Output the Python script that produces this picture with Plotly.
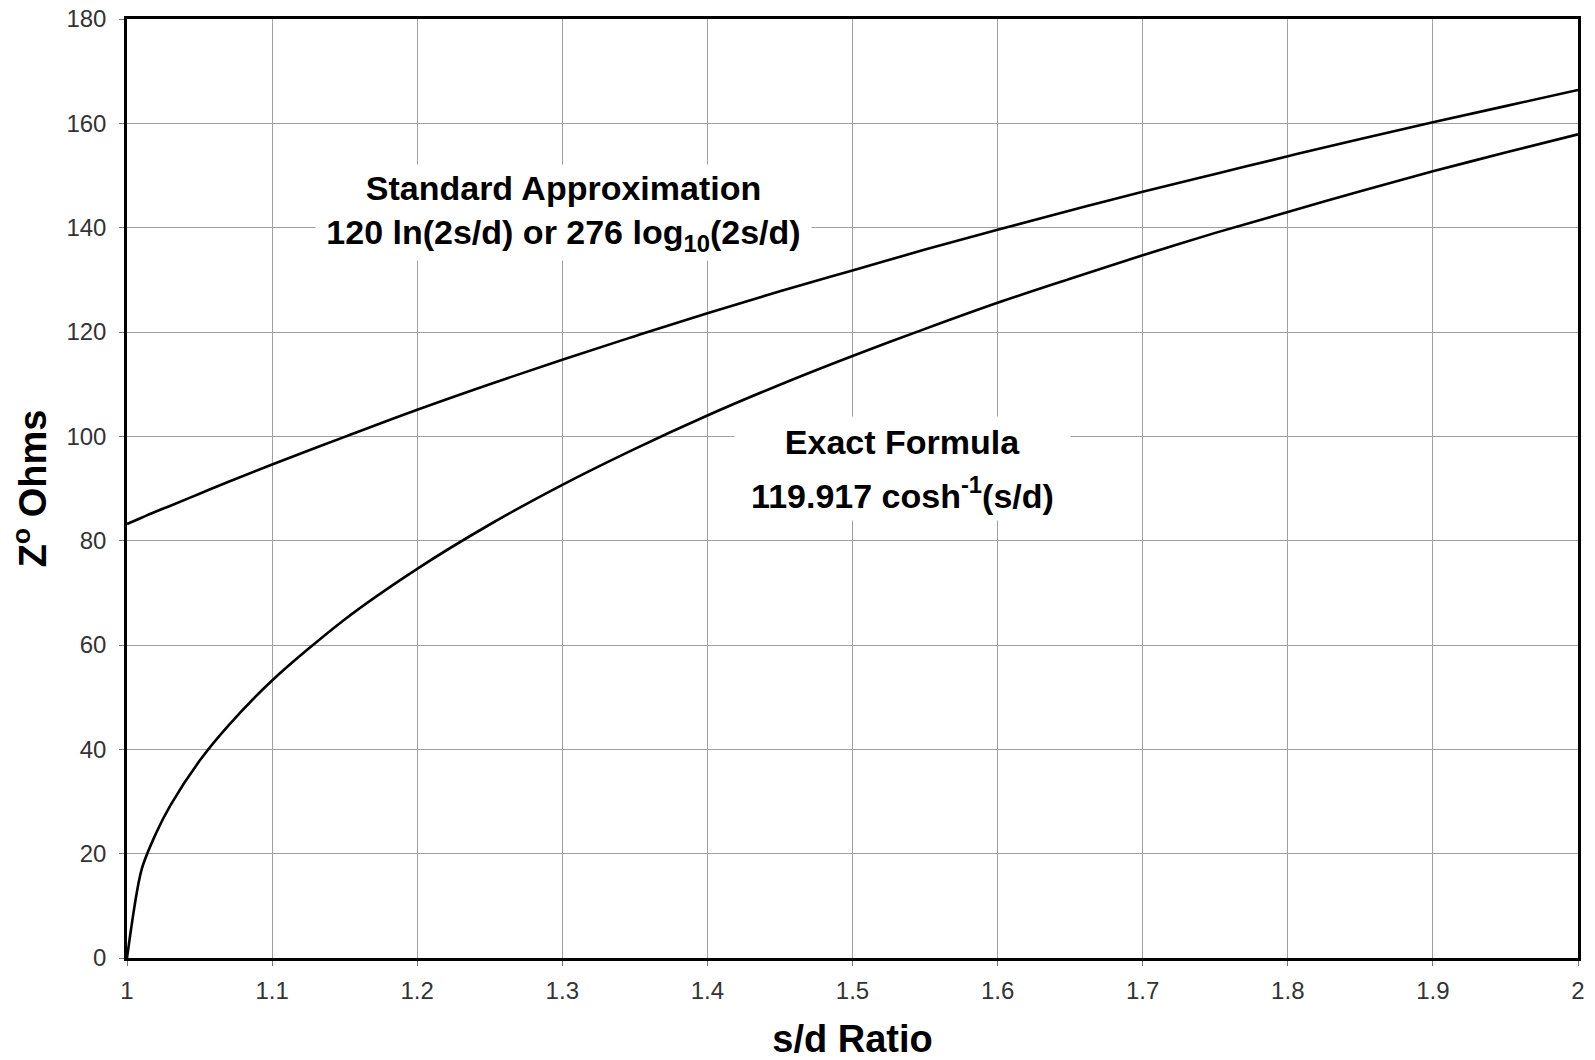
import plotly.graph_objects as go

# s/d ratio sample points
sd_ratio = [1.00, 1.01, 1.02, 1.03, 1.05, 1.07, 1.10, 1.15, 1.20, 1.25, 1.30,
            1.35, 1.40, 1.45, 1.50, 1.55, 1.60, 1.65, 1.70, 1.75, 1.80,
            1.85, 1.90, 1.95, 2.00]

# Characteristic impedance (ohms), standard approximation 120 ln(2s/d)
z_standard = [83.2, 84.4, 85.6, 86.7, 89.0, 91.3, 94.6, 99.9, 105.1, 110.0, 114.7,
              119.2, 123.6, 127.8, 131.8, 135.8, 139.6, 143.3, 146.9, 150.3, 153.7,
              157.0, 160.2, 163.3, 166.4]

# Characteristic impedance (ohms), exact formula 119.917 cosh^-1(s/d)
z_exact = [0.0, 16.9, 23.9, 29.3, 37.8, 44.6, 53.2, 64.9, 74.6, 83.1, 90.7,
           97.6, 104.0, 109.9, 115.4, 120.6, 125.6, 130.2, 134.7, 139.0, 143.0,
           147.0, 150.8, 154.4, 157.9]

x_ticks = [1.0, 1.1, 1.2, 1.3, 1.4, 1.5, 1.6, 1.7, 1.8, 1.9, 2.0]
x_tick_text = ["1", "1.1", "1.2", "1.3", "1.4", "1.5", "1.6", "1.7", "1.8", "1.9", "2"]
y_ticks = [0, 20, 40, 60, 80, 100, 120, 140, 160, 180]

FONT = "Arial, 'Liberation Sans', sans-serif"

fig = go.Figure()
fig.add_trace(go.Scatter(x=sd_ratio, y=z_standard, mode="lines",
                         line=dict(color="black", width=2.6, shape="spline", smoothing=1.0),
                         showlegend=False))
fig.add_trace(go.Scatter(x=sd_ratio, y=z_exact, mode="lines",
                         line=dict(color="black", width=2.6, shape="spline", smoothing=0.8),
                         showlegend=False))

label_font = dict(family=FONT, size=34, color="black")


def label(text, x, y, w, h):
    fig.add_annotation(text="<b>" + text + "</b>", x=x, y=y, xref="x", yref="y",
                       showarrow=False, font=label_font, bgcolor="white",
                       width=w, height=h, borderpad=0, align="center",
                       xanchor="center", yanchor="middle")


label("Standard Approximation", 1.3008, 147.7, 495, 45)
label("120 ln(2s/d) or 276 log<sub>10</sub>(2s/d)", 1.3008, 138.6, 495, 50)
label("Exact Formula", 1.5348, 99.0, 335, 49)
label("119.917 cosh<sup>-1</sup>(s/d)", 1.5348, 89.1, 335, 54)

axis_common = dict(
    showgrid=True, gridcolor="#a0a0a0", gridwidth=1,
    showline=True, linecolor="black", linewidth=2.5, mirror=True,
    ticks="outside", ticklen=5, tickcolor="#777777",
    tickfont=dict(family=FONT, size=24, color="#333333"),
    zeroline=False,
)

fig.update_xaxes(range=[1, 2], tickvals=x_ticks, ticktext=x_tick_text,
                 ticklabelstandoff=4,
                 title=dict(text="<b>s/d Ratio</b>", standoff=24,
                            font=dict(family=FONT, size=38, color="black")),
                 **axis_common)
fig.update_yaxes(range=[0, 180], tickvals=y_ticks,
                 ticklabelstandoff=8,
                 title=dict(text="<b>Z<sup>o</sup> Ohms</b>", standoff=9,
                            font=dict(family=FONT, size=38, color="black")),
                 **axis_common)

fig.update_layout(
    width=1595, height=1060,
    margin=dict(l=127, r=17, t=19, b=102, autoexpand=False),
    paper_bgcolor="white", plot_bgcolor="white",
)

fig.write_html("out.html")
